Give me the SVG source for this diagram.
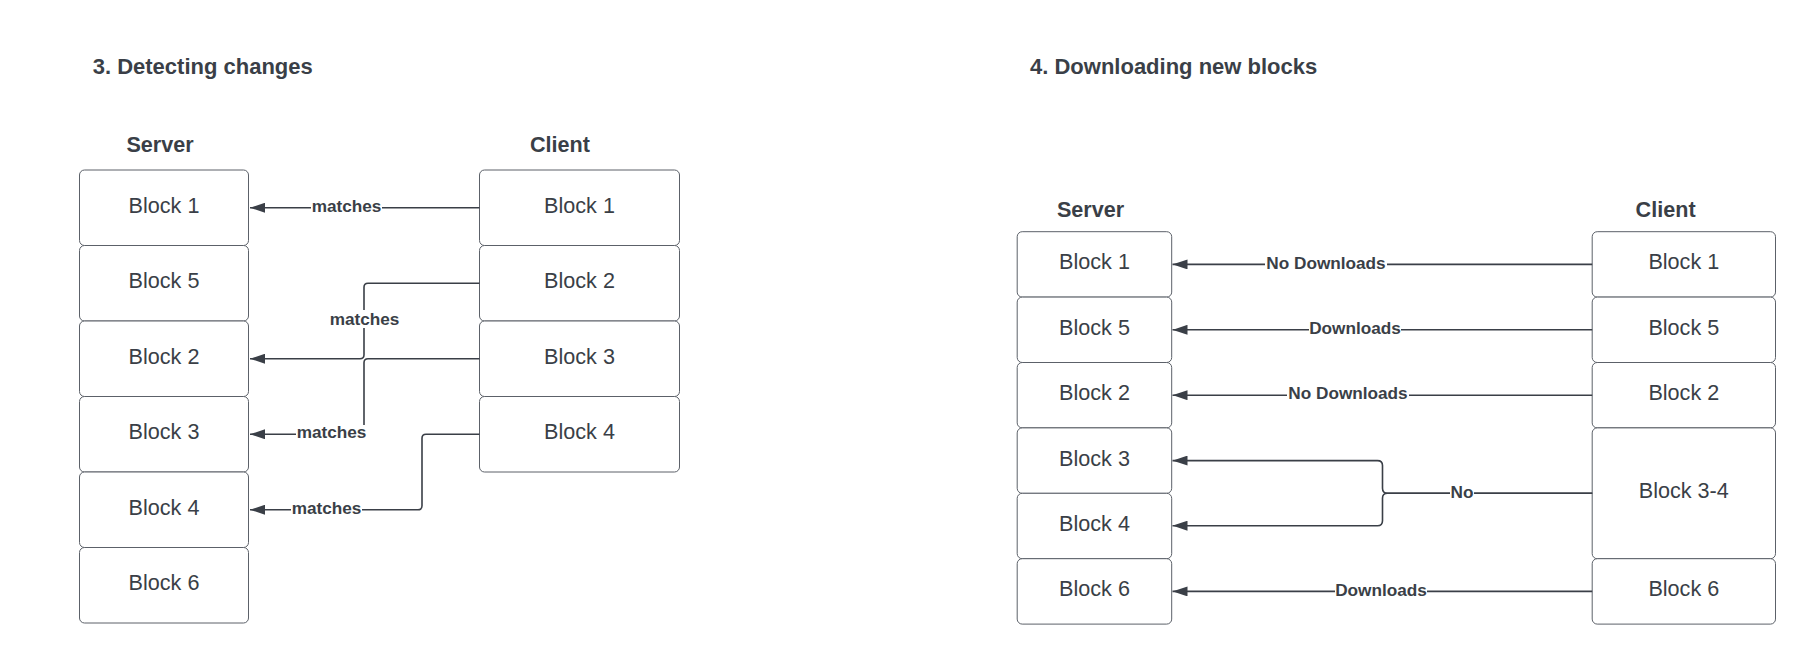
<svg xmlns="http://www.w3.org/2000/svg" width="1816" height="665" viewBox="0 0 1816 665">
  <style>
    .box { fill: #ffffff; stroke: #5c6169; stroke-width: 1; }
    .btxt { font-family: "Liberation Sans", Arial, sans-serif; font-size: 21.6px; fill: #3a3f47; text-anchor: middle; }
    .hdr { font-family: "Liberation Sans", Arial, sans-serif; font-size: 21.6px; font-weight: bold; fill: #3a3f47; text-anchor: middle; }
    .title { font-family: "Liberation Sans", Arial, sans-serif; font-size: 22px; font-weight: bold; fill: #3a3f47; }
    .conn { fill: none; stroke: #3a3f47; stroke-width: 1.6; marker-end: url(#arrow); }
    .lbg { fill: #ffffff; }
    .ltxt { font-family: "Liberation Sans", Arial, sans-serif; font-size: 17.2px; font-weight: bold; fill: #3a3f47; text-anchor: middle; }
  </style>
  <defs>
    <marker id="arrow" viewBox="0 0 15 10" refX="15" refY="5" markerWidth="15" markerHeight="10" markerUnits="userSpaceOnUse" orient="auto">
      <path d="M0,0 L15,5 L0,10 z" fill="#3a3f47"/>
    </marker>
  </defs>
  <rect width="1816" height="665" fill="#ffffff"/>

  <!-- Titles -->
  <text class="title" x="92.7" y="73.5">3. Detecting changes</text>
  <text class="title" x="1030" y="74.3">4. Downloading new blocks</text>

  <!-- Left panel headers -->
  <text id="l-server-hdr" class="hdr" x="160" y="151.7">Server</text>
  <text id="l-client-hdr" class="hdr" x="560" y="151.7">Client</text>

  <!-- Left panel server nodes -->
  <g id="l-s-block1"><rect class="box" x="79.5" y="170" width="169" height="75.5" rx="5"/><text class="btxt" x="164" y="212.75">Block 1</text></g>
  <g id="l-s-block5"><rect class="box" x="79.5" y="245.5" width="169" height="75.5" rx="5"/><text class="btxt" x="164" y="288.25">Block 5</text></g>
  <g id="l-s-block2"><rect class="box" x="79.5" y="321" width="169" height="75.5" rx="5"/><text class="btxt" x="164" y="363.75">Block 2</text></g>
  <g id="l-s-block3"><rect class="box" x="79.5" y="396.5" width="169" height="75.5" rx="5"/><text class="btxt" x="164" y="439.25">Block 3</text></g>
  <g id="l-s-block4"><rect class="box" x="79.5" y="472" width="169" height="75.5" rx="5"/><text class="btxt" x="164" y="514.75">Block 4</text></g>
  <g id="l-s-block6"><rect class="box" x="79.5" y="547.5" width="169" height="75.5" rx="5"/><text class="btxt" x="164" y="590.25">Block 6</text></g>

  <!-- Left panel client nodes -->
  <g id="l-c-block1"><rect class="box" x="479.5" y="170" width="200" height="75.5" rx="5"/><text class="btxt" x="579.5" y="212.75">Block 1</text></g>
  <g id="l-c-block2"><rect class="box" x="479.5" y="245.5" width="200" height="75.5" rx="5"/><text class="btxt" x="579.5" y="288.25">Block 2</text></g>
  <g id="l-c-block3"><rect class="box" x="479.5" y="321" width="200" height="75.5" rx="5"/><text class="btxt" x="579.5" y="363.75">Block 3</text></g>
  <g id="l-c-block4"><rect class="box" x="479.5" y="396.5" width="200" height="75.5" rx="5"/><text class="btxt" x="579.5" y="439.25">Block 4</text></g>

  <!-- Right panel headers -->
  <text id="r-server-hdr" class="hdr" x="1090.5" y="216.7">Server</text>
  <text id="r-client-hdr" class="hdr" x="1665.6" y="216.7">Client</text>

  <!-- Right panel server nodes -->
  <g id="r-s-block1"><rect class="box" x="1017.2" y="231.7" width="154.5" height="65.4" rx="5"/><text class="btxt" x="1094.5" y="269.4">Block 1</text></g>
  <g id="r-s-block5"><rect class="box" x="1017.2" y="297.1" width="154.5" height="65.4" rx="5"/><text class="btxt" x="1094.5" y="334.8">Block 5</text></g>
  <g id="r-s-block2"><rect class="box" x="1017.2" y="362.5" width="154.5" height="65.4" rx="5"/><text class="btxt" x="1094.5" y="400.2">Block 2</text></g>
  <g id="r-s-block3"><rect class="box" x="1017.2" y="427.9" width="154.5" height="65.4" rx="5"/><text class="btxt" x="1094.5" y="465.6">Block 3</text></g>
  <g id="r-s-block4"><rect class="box" x="1017.2" y="493.3" width="154.5" height="65.4" rx="5"/><text class="btxt" x="1094.5" y="531">Block 4</text></g>
  <g id="r-s-block6"><rect class="box" x="1017.2" y="558.7" width="154.5" height="65.4" rx="5"/><text class="btxt" x="1094.5" y="596.4">Block 6</text></g>

  <!-- Right panel client nodes -->
  <g id="r-c-block1"><rect class="box" x="1592.2" y="231.7" width="183.3" height="65.4" rx="5"/><text class="btxt" x="1683.8" y="269.4">Block 1</text></g>
  <g id="r-c-block5"><rect class="box" x="1592.2" y="297.1" width="183.3" height="65.4" rx="5"/><text class="btxt" x="1683.8" y="334.8">Block 5</text></g>
  <g id="r-c-block2"><rect class="box" x="1592.2" y="362.5" width="183.3" height="65.4" rx="5"/><text class="btxt" x="1683.8" y="400.2">Block 2</text></g>
  <g id="r-c-block34"><rect class="box" x="1592.2" y="427.9" width="183.3" height="130.8" rx="5"/><text class="btxt" x="1683.8" y="498.3">Block 3-4</text></g>
  <g id="r-c-block6"><rect class="box" x="1592.2" y="558.7" width="183.3" height="65.4" rx="5"/><text class="btxt" x="1683.8" y="596.4">Block 6</text></g>

  <!-- Connectors -->
  <g id="connectors">
    <path class="conn" d="M479.5,207.75 H250"/>
    <path class="conn" d="M479.5,283.25 H368 Q364,283.25 364,287.25 V354.75 Q364,358.75 360,358.75 H250"/>
    <path class="conn" d="M479.5,358.75 H368 Q364,358.75 364,362.75 V430.25 Q364,434.25 360,434.25 H250"/>
    <path class="conn" d="M479.5,434.25 H426 Q422,434.25 422,438.25 V505.75 Q422,509.75 418,509.75 H250"/>

    <path class="conn" d="M1592.2,264.4 H1172.5"/>
    <path class="conn" d="M1592.2,329.8 H1172.5"/>
    <path class="conn" d="M1592.2,395.2 H1172.5"/>
    <path class="conn" d="M1592.2,493.3 H1387.5 Q1382.5,493.3 1382.5,488.3 V465.6 Q1382.5,460.6 1377.5,460.6 H1172.5"/>
    <path class="conn" d="M1592.2,493.3 H1387.5 Q1382.5,493.3 1382.5,498.3 V520.7 Q1382.5,525.7 1377.5,525.7 H1172.5"/>
    <path class="conn" d="M1592.2,591.4 H1172.5"/>

    <!-- Labels -->
    <rect class="lbg" x="311" y="199" width="71" height="18"/>
    <text class="ltxt" x="346.5" y="211.75">matches</text>
    <rect class="lbg" x="329" y="310" width="71" height="18"/>
    <text class="ltxt" x="364.5" y="325">matches</text>
    <rect class="lbg" x="296" y="425" width="71" height="18"/>
    <text class="ltxt" x="331.5" y="438.25">matches</text>
    <rect class="lbg" x="291" y="500.5" width="71" height="18"/>
    <text class="ltxt" x="326.5" y="513.75">matches</text>

    <rect class="lbg" x="1265" y="255.4" width="122" height="18"/>
    <text class="ltxt" x="1326" y="268.6">No Downloads</text>
    <rect class="lbg" x="1309" y="320.8" width="92" height="18"/>
    <text class="ltxt" x="1355" y="334">Downloads</text>
    <rect class="lbg" x="1287" y="386.2" width="122" height="18"/>
    <text class="ltxt" x="1348" y="399.4">No Downloads</text>
    <rect class="lbg" x="1450" y="484.3" width="24" height="18"/>
    <text class="ltxt" x="1462" y="497.5">No</text>
    <rect class="lbg" x="1335" y="582.4" width="92" height="18"/>
    <text class="ltxt" x="1381" y="595.6">Downloads</text>
  </g>
</svg>
